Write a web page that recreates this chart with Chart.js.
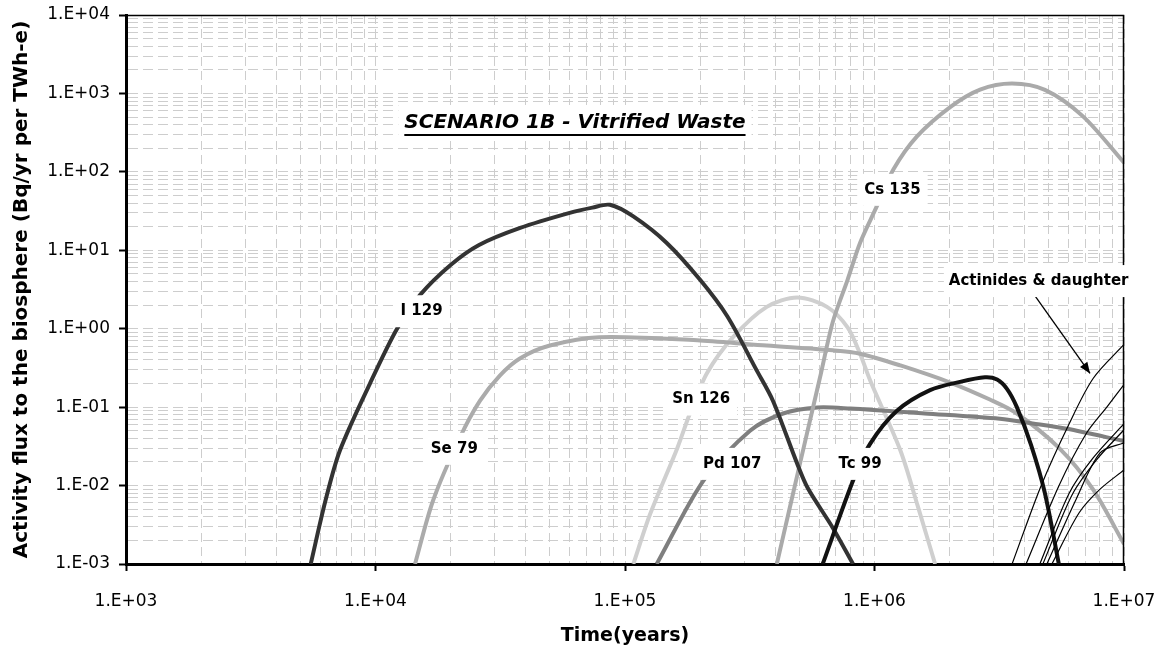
<!DOCTYPE html>
<html>
<head>
<meta charset="utf-8">
<title>Scenario 1B - Vitrified Waste</title>
<script src="https://cdn.jsdelivr.net/npm/chart.js@4.4.1/dist/chart.umd.min.js"></script>
<style>
  html, body { margin: 0; padding: 0; background: #ffffff; }
  #wrap { width: 1168px; height: 651px; }
</style>
</head>
<body>
<div id="wrap"><canvas id="chart" width="1168" height="651"></canvas></div>
<script>
// Axis decades (tick labels are drawn at these values)
const timeDecades = [1e3, 1e4, 1e5, 1e6, 1e7];
const fluxDecades = [1e-3, 1e-2, 1e-1, 1e0, 1e1, 1e2, 1e3, 1e4];

// Activity flux to the biosphere, [time (years), Bq/yr per TWh-e]
const i129 = [
  [5.5e3, 1e-3], [6.3e3, 6.4e-3], [7.2e3, 0.028], [9.5e3, 0.2], [1.22e4, 1.0],
  [1.51e4, 2.7], [2.0e4, 6.5], [2.6e4, 11.7], [3.8e4, 19.3], [6.0e4, 30],
  [7.4e4, 35], [8.7e4, 38], [1.08e5, 27], [1.47e5, 12.4], [2.0e5, 4.2],
  [2.57e5, 1.44], [3.38e5, 0.29], [3.92e5, 0.12], [4.9e5, 0.019],
  [5.4e5, 9.3e-3], [6.8e5, 2.9e-3], [8.2e5, 1e-3]
];
const se79 = [
  [1.44e4, 1e-3], [1.7e4, 6.4e-3], [2.18e4, 0.041], [2.62e4, 0.12], [3.15e4, 0.253],
  [3.79e4, 0.418], [5.0e4, 0.61], [7.9e4, 0.78], [2.0e5, 0.71], [3.7e5, 0.61],
  [6.8e5, 0.53], [8.75e5, 0.48], [1.27e6, 0.34], [2.01e6, 0.206], [2.9e6, 0.125],
  [3.72e6, 0.083], [5.5e6, 0.030], [7.5e6, 9.0e-3], [1e7, 1.8e-3]
];
const sn126 = [
  [1.08e5, 1e-3], [1.26e5, 4.3e-3], [1.62e5, 0.030], [1.82e5, 0.083], [2.13e5, 0.27],
  [2.71e5, 0.78], [3.7e5, 1.9], [4.9e5, 2.5], [6.45e5, 1.9], [7.8e5, 1.04],
  [8.75e5, 0.48], [9.6e5, 0.22], [1.27e6, 0.028], [1.49e6, 5.5e-3], [1.75e6, 1e-3]
];
const pd107 = [
  [1.34e5, 1e-3], [2.06e5, 0.0115], [3.17e5, 0.050], [4.3e5, 0.083], [5.9e5, 0.099],
  [8.0e5, 0.096], [1.59e6, 0.083], [3.18e6, 0.071], [4.3e6, 0.062], [5.9e6, 0.053],
  [1e7, 0.037]
];
const tc99 = [
  [6.2e5, 1e-3], [8.2e5, 0.0115], [9.6e5, 0.034], [1.23e6, 0.090], [1.67e6, 0.165],
  [2.2e6, 0.21], [2.77e6, 0.24], [3.1e6, 0.225], [3.4e6, 0.17], [3.72e6, 0.10],
  [4.24e6, 0.033], [4.82e6, 8.0e-3], [5.48e6, 1e-3]
];
const cs135 = [
  [4.06e5, 1e-3], [4.58e5, 5.3e-3], [5.36e5, 0.046], [6.05e5, 0.24], [6.8e5, 1.21],
  [7.8e5, 4.2], [8.75e5, 12.4], [1.02e6, 36], [1.19e6, 107], [1.48e6, 283],
  [2.01e6, 670], [2.65e6, 1120], [3.56e6, 1340], [4.82e6, 1110], [6.85e6, 510],
  [1e7, 131]
];
// Actinides and their daughters
const actinide1 = [[3.56e6, 1e-3], [4.65e6, 9.9e-3], [6.03e6, 0.0615], [7.52e6, 0.232], [1e7, 0.63]];
const actinide2 = [[4.05e6, 1e-3], [5.48e6, 9.9e-3], [7.05e6, 0.0458], [8.55e6, 0.101], [1e7, 0.194]];
const actinide3 = [[4.6e6, 1e-3], [6.03e6, 8.0e-3], [7.52e6, 0.0225], [1e7, 0.0615]];
const actinide4 = [[4.73e6, 1e-3], [6.19e6, 7.6e-3], [7.73e6, 0.021], [1e7, 0.0515]];
const actinide5 = [[4.91e6, 1e-3], [6.43e6, 6.7e-3], [8.02e6, 0.0261], [1e7, 0.0351]];
const actinide6 = [[5.14e6, 1e-3], [6.61e6, 4.5e-3], [8.02e6, 9.0e-3], [1e7, 0.0158]];

// Curve labels, anchored in data coordinates
const curveLabels = [
  { text: 'I 129',  t: 1.53e4, v: 1.67 },
  { text: 'Se 79',  t: 2.07e4, v: 0.0294 },
  { text: 'Sn 126', t: 2.02e5, v: 0.125 },
  { text: 'Pd 107', t: 2.69e5, v: 0.0189 },
  { text: 'Tc 99',  t: 8.75e5, v: 0.0189 },
  { text: 'Cs 135', t: 1.18e6, v: 59 }
];
const actinideNote = { text: 'Actinides & daughter', t: 4.55e6, v: 4.05, from: [4.32e6, 2.84], to: [7.31e6, 0.269] };
const chartTitle = { text: 'SCENARIO 1B - Vitrified Waste', t: 6.3e4, v: 420 };

const pts = arr => arr.map(([x, y]) => ({ x, y }));

// Grid values: 1..9 x each decade
function gridValues(decades) {
  const out = [];
  for (let i = 0; i < decades.length; i++) {
    const d = decades[i];
    if (i === decades.length - 1) { out.push(d); break; }
    for (let k = 1; k <= 9; k++) out.push(d * k);
  }
  return out;
}
const isDecade = v => Math.abs(Math.log10(v) - Math.round(Math.log10(v))) < 1e-9;
const fmtExp = v => {
  const e = Math.round(Math.log10(v));
  return '1.E' + (e < 0 ? '-' : '+') + String(Math.abs(e)).padStart(2, '0');
};

const FONT = '"DejaVu Sans", sans-serif';

function curve(label, data, color, width, order) {
  return {
    label, data: pts(data), showLine: true, borderColor: color, borderWidth: width,
    pointRadius: 0, tension: 0.3, fill: false, order,
    borderCapStyle: 'butt', borderJoinStyle: 'round'
  };
}

const decorations = {
  id: 'decorations',
  afterDatasetsDraw(chart) {
    const { ctx, chartArea: a, scales: { x, y } } = chart;
    ctx.save();
    // thin top and right frame edges
    ctx.strokeStyle = '#000';
    ctx.lineWidth = 1.5;
    ctx.beginPath();
    ctx.moveTo(a.left, a.top + 0.5);
    ctx.lineTo(a.right - 0.5, a.top + 0.5);
    ctx.lineTo(a.right - 0.5, a.bottom);
    ctx.stroke();

    // label boxes
    const boxLabel = (text, cx, cy, font, padX, padY) => {
      ctx.font = font;
      const w = ctx.measureText(text).width;
      ctx.fillStyle = '#fff';
      ctx.fillRect(cx - w / 2 - padX, cy - 8 - padY, w + 2 * padX, 16 + 2 * padY);
      ctx.fillStyle = '#000';
      ctx.textAlign = 'center';
      ctx.textBaseline = 'middle';
      ctx.fillText(text, cx, cy);
      return w;
    };
    curveLabels.forEach(l => {
      boxLabel(l.text, x.getPixelForValue(l.t), y.getPixelForValue(l.v), 'bold 15px ' + FONT, 7, 8);
    });

    // actinides note with arrow
    const ax0 = x.getPixelForValue(actinideNote.from[0]), ay0 = y.getPixelForValue(actinideNote.from[1]);
    const ax1 = x.getPixelForValue(actinideNote.to[0]), ay1 = y.getPixelForValue(actinideNote.to[1]);
    ctx.strokeStyle = '#000';
    ctx.lineWidth = 1.3;
    ctx.beginPath(); ctx.moveTo(ax0, ay0); ctx.lineTo(ax1, ay1); ctx.stroke();
    const ang = Math.atan2(ay1 - ay0, ax1 - ax0), hl = 11, hw = 4.5;
    ctx.fillStyle = '#000';
    ctx.beginPath();
    ctx.moveTo(ax1, ay1);
    ctx.lineTo(ax1 - hl * Math.cos(ang) + hw * Math.sin(ang), ay1 - hl * Math.sin(ang) - hw * Math.cos(ang));
    ctx.lineTo(ax1 - hl * Math.cos(ang) - hw * Math.sin(ang), ay1 - hl * Math.sin(ang) + hw * Math.cos(ang));
    ctx.closePath(); ctx.fill();
    boxLabel(actinideNote.text, x.getPixelForValue(actinideNote.t), y.getPixelForValue(actinideNote.v), 'bold 15px ' + FONT, 5, 8);

    // underlined title
    const tx = x.getPixelForValue(chartTitle.t), ty = y.getPixelForValue(chartTitle.v);
    const tw = boxLabel(chartTitle.text, tx, ty, 'italic bold 20px ' + FONT, 6, 10);
    ctx.lineWidth = 2;
    ctx.beginPath();
    ctx.moveTo(tx - tw / 2, ty + 12);
    ctx.lineTo(tx + tw / 2, ty + 12);
    ctx.stroke();
    ctx.restore();
  }
};

const gridStyle = {
  color: '#cdcdcd',
  lineWidth: 1,
  tickLength: 7,
  tickWidth: 2,
  tickColor: c => (c.tick && isDecade(c.tick.value) ? '#000' : 'rgba(0,0,0,0)')
};

new Chart(document.getElementById('chart'), {
  type: 'scatter',
  data: {
    datasets: [
      curve('Sn 126', sn126, '#cfcfcf', 4, 6),
      curve('Se 79', se79, '#ababab', 4, 5),
      curve('Pd 107', pd107, '#7f7f7f', 4, 4),
      curve('Cs 135', cs135, '#aaaaaa', 4, 3),
      curve('I 129', i129, '#333333', 4, 2),
      curve('Tc 99', tc99, '#121212', 4, 1),
      curve('Actinides 1', actinide1, '#000', 1.2, 0),
      curve('Actinides 2', actinide2, '#000', 1.2, 0),
      curve('Actinides 3', actinide3, '#000', 1.2, 0),
      curve('Actinides 4', actinide4, '#000', 1.2, 0),
      curve('Actinides 5', actinide5, '#000', 1.2, 0),
      curve('Actinides 6', actinide6, '#000', 1.2, 0)
    ]
  },
  options: {
    responsive: false,
    animation: false,
    layout: { padding: { top: 15, right: 44, left: 0, bottom: 0 } },
    plugins: { legend: { display: false }, tooltip: { enabled: false } },
    scales: {
      x: {
        type: 'logarithmic',
        min: timeDecades[0],
        max: timeDecades[timeDecades.length - 1],
        afterBuildTicks: s => { s.ticks = gridValues(timeDecades).map(v => ({ value: v })); },
        afterFit: s => { s.height = 87; s.paddingLeft = 0; s.paddingRight = 0; },
        grid: gridStyle,
        border: { color: '#000', width: 3, dash: [9, 5] },
        ticks: {
          autoSkip: false, maxRotation: 0, padding: 20, color: '#000',
          font: { family: FONT, size: 17 },
          callback: v => (isDecade(v) ? fmtExp(v) : '')
        },
        title: {
          display: true, text: 'Time(years)', color: '#000',
          font: { family: FONT, size: 19, weight: 'bold' },
          padding: { top: 0, bottom: 4 }
        }
      },
      y: {
        type: 'logarithmic',
        min: fluxDecades[0],
        max: fluxDecades[fluxDecades.length - 1],
        afterBuildTicks: s => { s.ticks = gridValues(fluxDecades).map(v => ({ value: v })); },
        afterFit: s => { s.width = 126; s.paddingTop = 0; s.paddingBottom = 0; },
        grid: gridStyle,
        border: { color: '#000', width: 3, dash: [10, 5] },
        ticks: {
          autoSkip: false, padding: 9, color: '#000',
          font: { family: FONT, size: 17 },
          callback: v => (isDecade(v) ? fmtExp(v) : '')
        },
        title: {
          display: true, text: 'Activity flux to the biosphere (Bq/yr per TWh-e)', color: '#000',
          font: { family: FONT, size: 20, weight: 'bold' },
          padding: { top: 10, bottom: 0 }
        }
      }
    }
  },
  plugins: [decorations]
});
</script>
</body>
</html>
